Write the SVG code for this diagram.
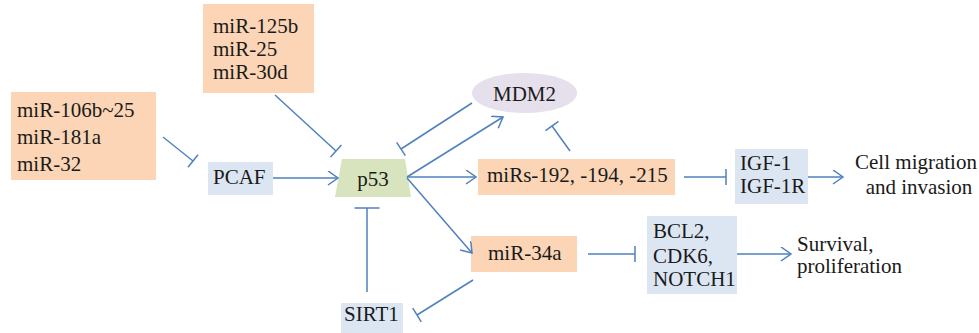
<svg xmlns="http://www.w3.org/2000/svg" width="979" height="333" viewBox="0 0 979 333">
<defs>
<style>
text{font-family:'Liberation Serif','DejaVu Serif','Times New Roman',serif;font-size:21px;fill:#1a1a1a}
.or{fill:#FBD5B5}
.bl{fill:#DCE6F2}
.gr{fill:#D7E4BD}
.pu{fill:#E5E0EC}
.c{stroke:#4F81BD;stroke-width:1.5;fill:none}
</style>
<marker id="arr" markerUnits="userSpaceOnUse" markerWidth="14" markerHeight="16" refX="11" refY="7" orient="auto" viewBox="0 0 14 16">
<path d="M1,0 L11,7 L1,14" fill="none" stroke="#4F81BD" stroke-width="1.5"/>
</marker>
<marker id="bar" markerUnits="userSpaceOnUse" markerWidth="4" markerHeight="20" refX="2" refY="10" orient="auto" viewBox="0 0 4 20">
<path d="M2,2 L2,18" stroke="#4F81BD" stroke-width="1.5"/>
</marker>
<marker id="barL" markerUnits="userSpaceOnUse" markerWidth="4" markerHeight="28" refX="2" refY="14" orient="auto" viewBox="0 0 4 28">
<path d="M2,1.5 L2,26.5" stroke="#4F81BD" stroke-width="1.5"/>
</marker>
</defs>
<g font-family="Liberation Serif, DejaVu Serif, serif" font-size="21">
<g id="mir106">
<rect class="or" x="11" y="92" width="145" height="88"/>
<text x="17" y="117">miR-106b~25</text>
<text x="17" y="144">miR-181a</text>
<text x="17" y="171">miR-32</text>
</g>
<g id="mir125">
<rect class="or" x="203" y="4" width="111" height="89"/>
<text x="213" y="33">miR-125b</text>
<text x="213" y="56">miR-25</text>
<text x="213" y="79">miR-30d</text>
</g>
<g id="pcaf">
<rect class="bl" x="208" y="162" width="65" height="33"/>
<text x="213" y="184">PCAF</text>
</g>
<g id="p53">
<polygon class="gr" points="342,159 405,159 411,197 335,197"/>
<text x="373" y="186" text-anchor="middle">p53</text>
</g>
<g id="mdm2">
<ellipse class="pu" cx="524.5" cy="93" rx="52.5" ry="20"/>
<text x="524.5" y="101" text-anchor="middle">MDM2</text>
</g>
<g id="mirs192">
<rect class="or" x="478" y="159" width="197" height="36"/>
<text x="487" y="182">miRs-192, -194, -215</text>
</g>
<g id="igf">
<rect class="bl" x="735" y="149" width="73" height="55"/>
<text x="740" y="170">IGF-1</text>
<text x="740" y="193">IGF-1R</text>
</g>
<g id="cell">
<text x="916" y="169" text-anchor="middle">Cell migration</text>
<text x="919" y="194" text-anchor="middle">and invasion</text>
</g>
<g id="mir34a">
<rect class="or" x="471" y="236" width="106" height="36"/>
<text x="488" y="260">miR-34a</text>
</g>
<g id="bcl2">
<rect class="bl" x="647" y="216" width="90" height="78"/>
<text x="653" y="238">BCL2,</text>
<text x="653" y="263">CDK6,</text>
<text x="653" y="286">NOTCH1</text>
</g>
<g id="survival">
<text x="797" y="251">Survival,</text>
<text x="797" y="273">proliferation</text>
</g>
<g id="sirt1">
<rect class="bl" x="341" y="303" width="62" height="30"/>
<text x="344" y="321">SIRT1</text>
</g>
</g>
<g id="connectors">
<line class="c" x1="163" y1="137" x2="193" y2="161" marker-end="url(#bar)"/>
<line class="c" x1="275" y1="95" x2="336" y2="151" marker-end="url(#bar)"/>
<line class="c" x1="273" y1="178" x2="338" y2="178" marker-end="url(#arr)"/>
<line class="c" x1="472" y1="103" x2="401" y2="149" marker-end="url(#bar)"/>
<line class="c" x1="407" y1="177" x2="503" y2="117" marker-end="url(#arr)"/>
<line class="c" x1="407" y1="177" x2="476" y2="177" marker-end="url(#arr)"/>
<line class="c" x1="570" y1="151" x2="552" y2="126" marker-end="url(#bar)"/>
<line class="c" x1="684" y1="177" x2="726" y2="177" marker-end="url(#bar)"/>
<line class="c" x1="808" y1="177" x2="843" y2="177" marker-end="url(#arr)"/>
<line class="c" x1="407" y1="178" x2="472" y2="253" marker-end="url(#arr)"/>
<line class="c" x1="588" y1="254" x2="635" y2="254" marker-end="url(#bar)"/>
<line class="c" x1="737" y1="254" x2="791" y2="254" marker-end="url(#arr)"/>
<line class="c" x1="367" y1="292" x2="367" y2="208" marker-end="url(#barL)"/>
<line class="c" x1="473" y1="280" x2="417" y2="315" marker-end="url(#bar)"/>
</g>
</svg>
